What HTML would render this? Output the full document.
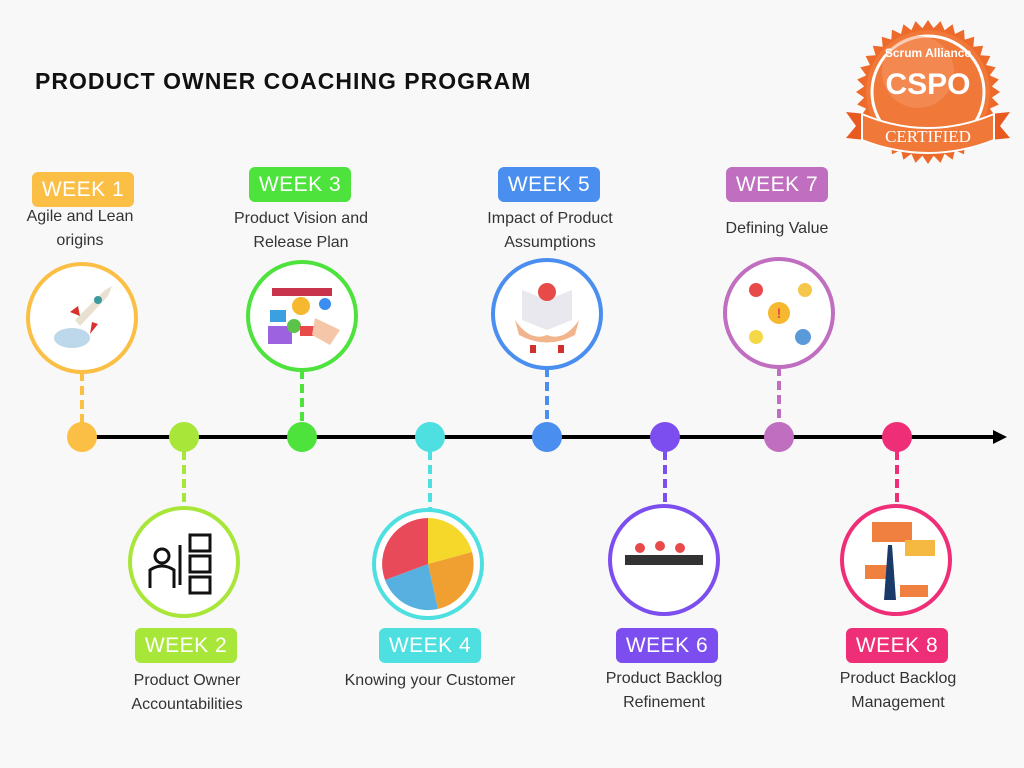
<!DOCTYPE html>
<html><head><meta charset="utf-8"><style>
body{margin:0;width:1024px;height:768px;background:#f8f8f8;position:relative;overflow:hidden;font-family:"Liberation Sans","DejaVu Sans",sans-serif}
.t{position:absolute;left:35px;top:68px;font-size:23px;font-weight:bold;color:#111;letter-spacing:1px}
.wk{position:absolute;width:102px;height:35px;border-radius:6px;color:#fff;font-size:21px;text-align:center;line-height:35px;letter-spacing:0.5px}
.d{position:absolute;width:200px;text-align:center;font-size:16px;color:#333;line-height:24px}
svg{position:absolute;left:0;top:0}
</style></head><body>
<svg width="1024" height="768">
<g stroke-width="4" stroke-dasharray="9,5">
<line x1="82" y1="372" x2="82" y2="437" stroke="#fbbf45"/>
<line x1="302" y1="370" x2="302" y2="437" stroke="#4ee23c"/>
<line x1="547" y1="368" x2="547" y2="437" stroke="#4a8ef0"/>
<line x1="779" y1="367" x2="779" y2="437" stroke="#c06ec0"/>
<line x1="184" y1="437" x2="184" y2="508" stroke="#a8e63a"/>
<line x1="430" y1="437" x2="430" y2="510" stroke="#4edfe0"/>
<line x1="665" y1="437" x2="665" y2="506" stroke="#7c4ef0"/>
<line x1="897" y1="437" x2="897" y2="506" stroke="#ee2f78"/>
</g>
<line x1="82" y1="437" x2="995" y2="437" stroke="#000" stroke-width="4"/>
<polygon points="993,430 1007,437 993,444" fill="#000"/>
<circle cx="82" cy="437" r="15" fill="#fbbf45"/>
<circle cx="184" cy="437" r="15" fill="#a8e63a"/>
<circle cx="302" cy="437" r="15" fill="#4ee23c"/>
<circle cx="430" cy="437" r="15" fill="#4edfe0"/>
<circle cx="547" cy="437" r="15" fill="#4a8ef0"/>
<circle cx="665" cy="437" r="15" fill="#7c4ef0"/>
<circle cx="779" cy="437" r="15" fill="#c06ec0"/>
<circle cx="897" cy="437" r="15" fill="#ee2f78"/>
<g fill="#fff" stroke-width="4">
<circle cx="82" cy="318" r="54" stroke="#fbbf45"/>
<circle cx="302" cy="316" r="54" stroke="#4ee23c"/>
<circle cx="547" cy="314" r="54" stroke="#4a8ef0"/>
<circle cx="779" cy="313" r="54" stroke="#c06ec0"/>
<circle cx="184" cy="562" r="54" stroke="#a8e63a"/>
<circle cx="428" cy="564" r="54" stroke="#4edfe0"/>
<circle cx="664" cy="560" r="54" stroke="#7c4ef0"/>
<circle cx="896" cy="560" r="54" stroke="#ee2f78"/>
</g>
<g>
<ellipse cx="72" cy="338" rx="18" ry="10" fill="#bcd8ea"/>
<path d="M75 320 L105 290 L112 286 L108 296 L80 326 Z" fill="#e8e0d0"/>
<path d="M78 306 L70 312 L80 316Z M92 322 L90 334 L98 324Z" fill="#d9312e"/>
<circle cx="98" cy="300" r="4" fill="#3a9aa0"/>
<rect x="272" y="288" width="60" height="8" fill="#c8344c"/>
<circle cx="301" cy="306" r="9" fill="#f5b82e"/>
<rect x="270" y="310" width="16" height="12" fill="#3aa0e0"/>
<rect x="268" y="326" width="24" height="18" fill="#9c62e0"/>
<circle cx="294" cy="326" r="7" fill="#5bc24a"/>
<rect x="300" y="326" width="14" height="10" fill="#e84a4a"/>
<circle cx="325" cy="304" r="6" fill="#3a8ef0"/>
<path d="M315 318 L340 330 L330 345 L312 335Z" fill="#f5c6a8"/>
<path d="M522 290 L547 300 L572 290 L572 320 L547 330 L522 320Z" fill="#e8e8ee"/>
<circle cx="547" cy="292" r="9" fill="#e84a4a"/>
<path d="M515 320 Q530 342 547 335 Q564 342 579 320 L575 335 Q547 350 519 335Z" fill="#f2b48c"/>
<rect x="530" y="345" width="6" height="8" fill="#d03030"/><rect x="558" y="345" width="6" height="8" fill="#d03030"/>
<circle cx="779" cy="313" r="11" fill="#f5b82e"/><text x="779" y="318" font-size="14" fill="#e84a4a" text-anchor="middle" font-weight="bold">!</text>
<circle cx="756" cy="290" r="7" fill="#e84a4a"/><circle cx="805" cy="290" r="7" fill="#f5c64a"/>
<circle cx="756" cy="337" r="7" fill="#f5d84a"/><circle cx="803" cy="337" r="8" fill="#5a9ad8"/>
<circle cx="162" cy="556" r="7" fill="none" stroke="#111" stroke-width="3"/>
<path d="M150 588 L150 570 Q162 562 174 570 L174 588" fill="none" stroke="#111" stroke-width="3"/>
<g fill="none" stroke="#111" stroke-width="3"><rect x="190" y="535" width="20" height="16"/><rect x="190" y="556" width="20" height="16"/><rect x="190" y="577" width="20" height="16"/><line x1="180" y1="545" x2="180" y2="585"/></g>
<path d="M428 564 L428 518 A46 46 0 0 1 472 552Z" fill="#f5d82a"/>
<path d="M428 564 L472 552 A46 46 0 0 1 438 609Z" fill="#f0a030"/>
<path d="M428 564 L438 609 A46 46 0 0 1 385 580Z" fill="#58b0e0"/>
<path d="M428 564 L385 580 A46 46 0 0 1 428 518Z" fill="#e84a5a"/>
<rect x="625" y="555" width="78" height="10" fill="#333"/>
<circle cx="640" cy="548" r="5" fill="#e84a4a"/><circle cx="660" cy="546" r="5" fill="#e84a4a"/><circle cx="680" cy="548" r="5" fill="#e84a4a"/>
<rect x="872" y="522" width="40" height="20" fill="#f08040"/><rect x="905" y="540" width="30" height="16" fill="#f5b840"/>
<rect x="865" y="565" width="28" height="14" fill="#f08040"/><rect x="900" y="585" width="28" height="12" fill="#f08040"/>
<path d="M888 545 L884 600 L896 600 L892 545Z" fill="#1a3a6a"/>
</g>
<g transform="translate(928,92)">
<polygon fill="#ee6a2a" points="__STAR__"/>
<circle r="62" fill="#f07838"/>
<circle r="56" fill="none" stroke="#fff" stroke-width="3"/>
<circle cx="-10" cy="-20" r="36" fill="#f59a6a" opacity="0.5"/>
<path d="M-82 20 L-62 22 L-62 48 L-82 46 L-72 34Z M82 20 L62 22 L62 48 L82 46 L72 34Z" fill="#e85a20"/>
<path d="M-66 22 Q0 50 66 22 L66 48 Q0 74 -66 48Z" fill="#f07838" stroke="#fff" stroke-width="2"/>
<text x="0" y="2" font-size="30" font-weight="bold" fill="#fff" text-anchor="middle">CSPO</text>
<text x="0" y="-35" font-size="12" fill="#fff" text-anchor="middle" font-weight="bold">Scrum Alliance</text>
<text x="0" y="50" font-size="17" fill="#fff" text-anchor="middle" font-family="Liberation Serif">CERTIFIED</text>
</g>
</svg>
<script>
var p=[];for(var i=0;i<72;i++){var a=i*Math.PI/36,r=i%2?64:72;p.push((r*Math.cos(a)).toFixed(1)+','+(r*Math.sin(a)).toFixed(1));}
document.querySelector('polygon[points="__STAR__"]').setAttribute('points',p.join(' '));
</script>
<div class="t">PRODUCT OWNER COACHING PROGRAM</div>
<div class="wk" style="left:32px;top:172px;background:#fbbf45">WEEK 1</div>
<div class="d" style="left:-20px;top:205px">Agile and Lean<br>origins</div>
<div class="wk" style="left:249px;top:167px;background:#4ee23c">WEEK 3</div>
<div class="d" style="left:201px;top:207px">Product Vision and<br>Release Plan</div>
<div class="wk" style="left:498px;top:167px;background:#4a8ef0">WEEK 5</div>
<div class="d" style="left:450px;top:207px">Impact of Product<br>Assumptions</div>
<div class="wk" style="left:726px;top:167px;background:#c06ec0">WEEK 7</div>
<div class="d" style="left:677px;top:217px">Defining Value</div>
<div class="wk" style="left:135px;top:628px;background:#a8e63a">WEEK 2</div>
<div class="d" style="left:87px;top:669px">Product Owner<br>Accountabilities</div>
<div class="wk" style="left:379px;top:628px;background:#4edfe0">WEEK 4</div>
<div class="d" style="left:310px;top:669px;width:240px">Knowing your Customer</div>
<div class="wk" style="left:616px;top:628px;background:#7c4ef0">WEEK 6</div>
<div class="d" style="left:564px;top:667px">Product Backlog<br>Refinement</div>
<div class="wk" style="left:846px;top:628px;background:#ee2f78">WEEK 8</div>
<div class="d" style="left:798px;top:667px">Product Backlog<br>Management</div>
</body></html>
